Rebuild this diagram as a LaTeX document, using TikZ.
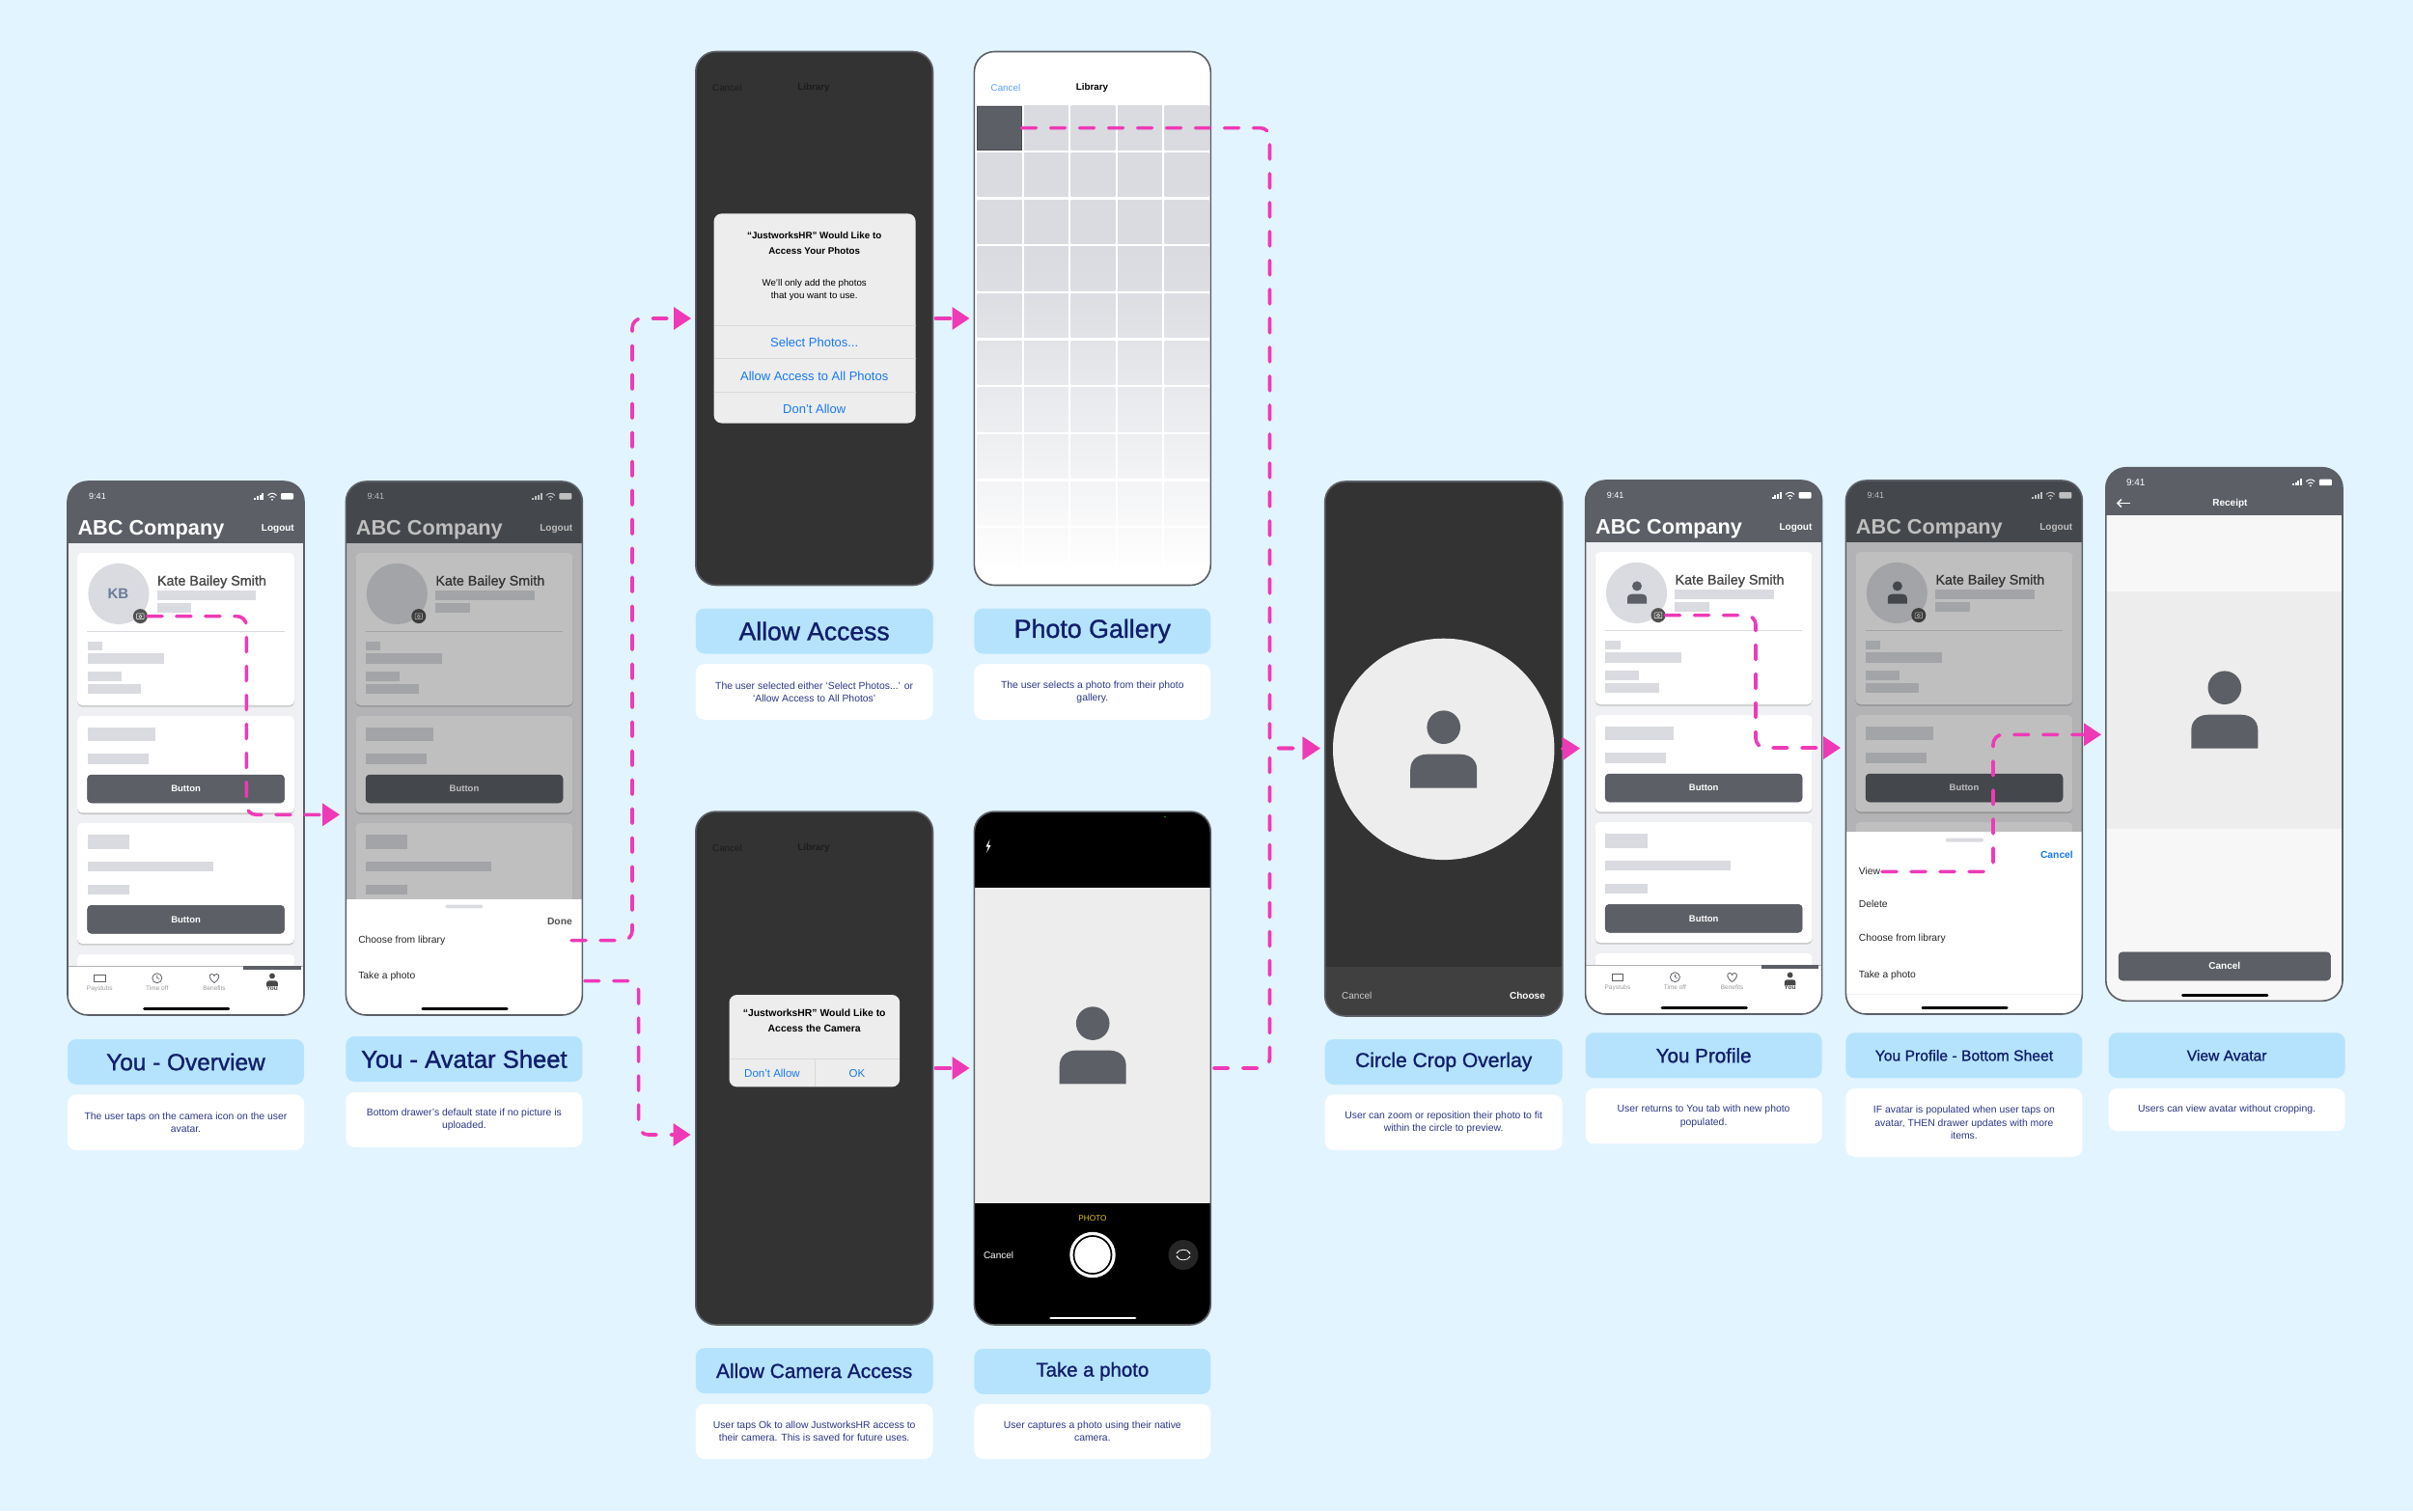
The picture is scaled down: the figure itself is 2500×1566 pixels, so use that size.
\documentclass[tikz,border=0pt]{standalone}
\usepackage{fontspec}
\usetikzlibrary{arrows.meta}
\setmainfont{Liberation Sans}
\newfontfamily\medfont[FakeBold=1.2]{Liberation Sans}
\newfontfamily\boldfont{Liberation Sans Bold}
\newcommand{\sz}[2][13.3]{\fontsize{#2}{#1}\selectfont}
\definecolor{pagebg}{HTML}{E2F4FF}
\definecolor{titlebg}{HTML}{B5E3FD}
\definecolor{titleink}{HTML}{111E6C}
\definecolor{descink}{HTML}{2C3785}
\definecolor{headbar}{HTML}{5C5F66}
\definecolor{listbg}{HTML}{EFF0F4}
\definecolor{skel}{HTML}{D9DBE0}
\definecolor{darkbg}{HTML}{333333}
\definecolor{dimtext}{HTML}{1C1C1C}
\definecolor{slate}{HTML}{6A7A99}
\definecolor{photobg}{HTML}{EDEDED}
\definecolor{linkblue}{HTML}{1878F0}
\definecolor{flowpink}{HTML}{EE3AB7}
\tikzset{
  flow/.style={draw=flowpink,line width=3.6pt,rounded corners=10pt,line cap=round,
    dash pattern=on 15pt off 15pt,-{Triangle[length=18pt,width=23pt]}},
  phone/.style={rectangle,draw=headbar,line width=1.6pt,rounded corners=21pt,
    minimum width=245pt,minimum height=553pt,inner sep=0pt,outer sep=0pt},
  titlebox/.style={rectangle,fill=titlebg,rounded corners=9pt,text=titleink,
    minimum width=245pt,minimum height=47pt,inner sep=0pt},
  descbox/.style={rectangle,fill=white,rounded corners=9pt,text=descink,align=center,
    minimum width=245pt,inner sep=0pt,font={\sz{10.4}}},
  btn/.style={rectangle,fill=headbar,draw=headbar!85!black,line width=.5pt,rounded corners=4pt,
    text=white,inner sep=0pt,font={\boldfont\sz{9.5}}},
  homebar/.style={line width=2.8pt,line cap=round},
  navtext/.style={text=black!40,inner sep=0pt,font={\sz{6.5}}},
  sheetitem/.style={anchor=west,inner sep=0pt,text=black!85,font={\sz{10.3}}},
  alertbtn/.style={text=linkblue,inner sep=0pt,font={\sz{13}}}
}
\newcommand{\personicon}[3]{%
  \begin{scope}[shift={#1},scale=#2]
  \fill[#3] (0,0) circle (17.3);
  \fill[#3] (-34.5,62.8) -- (-34.5,44) .. controls (-34.5,33) and (-26,28) .. (-17,28)
    -- (17,28) .. controls (26,28) and (34.5,33) .. (34.5,44) -- (34.5,62.8) -- cycle;
  \end{scope}}
\newcommand{\statusbar}[2]{%
  \node[text=white,inner sep=0pt,font={\sz{#2}}] (#1-clock) at (31,15) {9:41};
  \foreach \i/\h in {0/2,1/3.5,2/5,3/7}
    \fill[white] (193+\i*2.8,18.5) rectangle ++(2,-\h);
  \draw[white,line width=1pt] (207.5,14.5) .. controls (210,11.5) and (214,11.5) .. (216.5,14.5);
  \draw[white,line width=1pt] (209.5,16.5) .. controls (211,15) and (213,15) .. (214.5,16.5);
  \fill[white] (212,18.8) circle (1);
  \fill[white,rounded corners=1pt] (221,12) rectangle (234,18.5);}
\newcommand{\youbase}[2]{%
  \fill[listbg] (0,63) rectangle (245,503);
  \fill[headbar] (0,0) rectangle (245,63.6);
  \statusbar{#1}{9}
  \node[anchor=west,text=white,inner sep=0pt,font={\boldfont\sz{21.7}}] (#1-brand) at (10.3,50.5) {ABC Company};
  \node[anchor=east,text=white,inner sep=0pt,font={\boldfont\sz{10}}] (#1-logout) at (235,49.5) {Logout};
  \foreach \ya/\yb in {74/232,243/343.4,354/479,490/530} {
    \fill[black!22,rounded corners=5pt] (10,\ya+1.6) rectangle (235,\yb+1.6);
    \fill[white,rounded corners=5pt] (10,\ya) rectangle (235,\yb);
  }
  \fill[skel] (52.9,116.4) circle (31.5);
  #2
  \node[anchor=west,text=black!72,inner sep=0pt,font={\medfont\sz{14.3}}] (#1-name) at (92.8,104) {Kate Bailey Smith};
  \foreach \xa/\ya/\xb/\yb in {92.8/113/195.3/123,92.8/126/128.4/136,20.7/165.5/36/175.4,
    20.7/178/99.5/188.6,20.7/197/55.8/207,20.7/210/76/220,20.7/254.7/91/268.9,20.7/282/83.6/292.5,
    20.7/366/64/381,20.7/394/150.5/404,20.7/417.5/64/427.5}
    \fill[skel] (\xa,\ya) rectangle (\xb,\yb);
  \draw[skel,line width=.6pt] (20.3,155.6) -- (224.5,155.6);
  \node[circle,fill=black!68,minimum size=15pt,inner sep=0pt,outer sep=0pt] (#1-cam) at (75.4,139.6) {};
  \draw[white,line width=.5pt,rounded corners=.6pt] (71.6,136.8) rectangle (79.2,142.6);
  \draw[white,line width=.5pt] (75.4,139.8) circle (1.6);
  \node[btn,minimum width=204pt,minimum height=29pt] (#1-btna) at (122.6,318.5) {Button};
  \node[btn,minimum width=204pt,minimum height=29pt] (#1-btnb) at (122.6,453.8) {Button};
  \fill[white] (0,503) rectangle (245,553);
  \draw[black!30,line width=.8pt] (0,502.7) -- (245,502.7);
  \fill[headbar] (182,502) rectangle (241.6,505.5);
  \foreach \x/\lab/\i in {33.3/Paystubs/p,92.8/Time off/t,152/Benefits/b}
    \node[navtext] (#1-nav\i) at (\x,525.6) {\lab};
  \node[navtext,text=black!70,font={\boldfont\sz{6.5}}] (#1-navy) at (212,525.6) {You};
  \draw[headbar,line width=.8pt] (27.5,511) rectangle (39,518.5);
  \draw[headbar,line width=.8pt] (92.8,514.7) circle (5);
  \draw[headbar,line width=.7pt] (92.8,511.8) -- (92.8,514.7) -- (95.2,515.5);
  \draw[headbar,line width=.8pt] (152,519.5) .. controls (146,515.5) and (146,510.5) .. (149.5,510.5)
    .. controls (151,510.5) and (152,511.5) .. (152,512.5) .. controls (152,511.5) and (153,510.5) .. (154.5,510.5)
    .. controls (158,510.5) and (158,515.5) .. (152,519.5) -- cycle;
  \personicon{(212,512.5)}{.17}{black!72}
  \draw[black,homebar] (79.5,546.4) -- (166.8,546.4);}
\begin{document}
\begin{tikzpicture}[x=1pt,y=-1pt]
\useasboundingbox (0,0) rectangle (2500,1566);
\fill[pagebg] (0,0) rectangle (2500,1566);

\begin{scope}[shift={(70,499)}]
\clip[rounded corners=21pt] (0,0) rectangle (245,553);
\youbase{A}{\node[text=slate,inner sep=0pt,font={\boldfont\sz{15}}] (A-initials) at (52.5,116.4) {KB};}
\end{scope}
\node[phone] (A) at (192.5,775.5) {};

\begin{scope}[shift={(358.4,499)}]
\clip[rounded corners=21pt] (0,0) rectangle (245,553);
\youbase{B}{}
\fill[black,opacity=.25] (0,0) rectangle (245,553);
\fill[white] (0,433) rectangle (245,553);
\fill[skel,rounded corners=1.5pt] (103,438.7) rectangle (142,442.3);
\node[anchor=east,inner sep=0pt,text=black!68,font={\boldfont\sz{10.3}}] (B-done) at (234.6,456) {Done};
\node[sheetitem] (B-choose) at (12.7,476) {Choose from library};
\node[sheetitem] (B-take) at (12.7,513) {Take a photo};
\draw[black,homebar] (79.5,546.4) -- (166.8,546.4);
\end{scope}
\node[phone] (B) at (480.9,775.5) {};

\begin{scope}
\clip[rounded corners=21pt] (720.8,53.3) rectangle (966.5,606.6);
\fill[darkbg] (720.8,53.3) rectangle (966.5,606.6);
\node[anchor=west,inner sep=0pt,text=dimtext,font={\sz{9.8}}] (C-cancel) at (738,91.4) {Cancel};
\node[inner sep=0pt,text=dimtext,font={\boldfont\sz{9.8}}] (C-library) at (843,91.4) {Library};
\fill[photobg,rounded corners=8pt] (739.6,221.4) rectangle (948.6,438.5);
\node[inner sep=0pt,align=center,font={\boldfont\sz[15.7]{9.8}}] (C-ask) at (843.7,252) {“JustworksHR” Would Like to\\Access Your Photos};
\node[inner sep=0pt,align=center,font={\sz[13]{9.7}}] (C-body) at (843.7,300) {We'll only add the photos\\that you want to use.};
\foreach \y in {337.5,371.5,406} \draw[black!15,line width=.6pt] (739.6,\y) -- (948.6,\y);
\node[alertbtn] (C-select) at (843.7,355) {Select Photos...};
\node[alertbtn] (C-all) at (843.7,389.4) {Allow Access to All Photos};
\node[alertbtn] (C-deny) at (843.7,423.4) {Don't Allow};
\end{scope}
\node[phone,minimum width=245.7pt] (C) at (843.65,330) {};

\begin{scope}
\clip[rounded corners=21pt] (1009.4,53.3) rectangle (1254.3,606.6);
\fill[white] (1009.4,53.3) rectangle (1254.3,606.6);
\node[anchor=west,inner sep=0pt,text=linkblue!70!white,font={\sz{9.8}}] (D-cancel) at (1026.5,91.4) {Cancel};
\node[inner sep=0pt,font={\boldfont\sz{9.8}}] (D-library) at (1131.4,91.4) {Library};
\foreach \r in {0,...,9} {
  \pgfmathsetmacro\pa{min(100,(10-\r)*100/6.5)}
  \pgfmathsetmacro\pb{min(100,(9-\r)*100/6.5)}
  \foreach \c in {0,...,4}
    \shade[top color=skel!\pa!white,bottom color=skel!\pb!white] (1012.7+\c*48.47,109.8+\r*48.67) rectangle ++(45.8,45.5);
}
\node[rectangle,fill=headbar,draw=headbar!80!black,line width=.5pt,minimum width=45.8pt,minimum height=45.5pt,inner sep=0pt,outer sep=0pt] (D-cell) at (1035.6,132.55) {};
\end{scope}
\node[phone,minimum width=244.9pt] (D) at (1131.85,330) {};

\begin{scope}
\clip[rounded corners=21pt] (720.8,841) rectangle (966.5,1372.9);
\fill[darkbg] (720.8,841) rectangle (966.5,1372.9);
\node[anchor=west,inner sep=0pt,text=dimtext,font={\sz{9.8}}] (I-cancel) at (738,878.7) {Cancel};
\node[inner sep=0pt,text=dimtext,font={\boldfont\sz{9.8}}] (I-library) at (843,878.7) {Library};
\fill[photobg,rounded corners=8pt] (755.5,1031) rectangle (932.2,1126.4);
\node[inner sep=0pt,align=center,font={\boldfont\sz[16]{10.4}}] (I-ask) at (843.7,1057.6) {“JustworksHR” Would Like to\\Access the Camera};
\draw[black!15,line width=.6pt] (755.5,1097.4) -- (932.2,1097.4);
\draw[black!15,line width=.6pt] (844,1097.4) -- (844,1126.4);
\node[alertbtn,font={\sz{11.5}}] (I-deny) at (800,1112.6) {Don't Allow};
\node[alertbtn,font={\sz{11.5}}] (I-ok) at (888,1112.6) {OK};
\end{scope}
\node[phone,minimum width=245.7pt,minimum height=531.9pt] (I) at (843.65,1107) {};

\begin{scope}
\clip[rounded corners=21pt] (1009.4,841) rectangle (1254.3,1372.9);
\fill[black] (1009.4,841) rectangle (1254.3,1372.9);
\fill[photobg] (1009.4,920) rectangle (1254.3,1247);
\personicon{(1132.2,1060.6)}{1}{headbar}
\fill[white] (1025.5,870) -- (1021.5,877.5) -- (1024,877.5) -- (1022,884) -- (1026.5,876) -- (1024,876) -- cycle;
\fill[green!70!black] (1207,846.5) circle (.8);
\node[inner sep=0pt,text=yellow!75!orange!90!black,font={\sz{8.3}}] (J-mode) at (1132,1262.6) {PHOTO};
\node[anchor=west,inner sep=0pt,text=white,font={\sz{10}}] (J-cancel) at (1018.8,1300.5) {Cancel};
\fill[white] (1132,1300.5) circle (23.7);
\fill[black] (1132,1300.5) circle (20.4);
\fill[white] (1132,1300.5) circle (18.6);
\fill[black!85] (1226,1300.5) circle (15.5);
\draw[white,line width=.8pt,-{Stealth[length=2.5pt]}] (1219,1299) .. controls (1221,1294) and (1231,1294) .. (1233,1300);
\draw[white,line width=.8pt,-{Stealth[length=2.5pt]}] (1233,1302) .. controls (1231,1307) and (1221,1307) .. (1219,1301);
\draw[white,homebar] (1088.6,1366) -- (1176,1366);
\end{scope}
\node[phone,minimum width=244.9pt,minimum height=531.9pt] (J) at (1131.85,1107) {};

\begin{scope}
\clip[rounded corners=21pt] (1372.7,499) rectangle (1618.7,1053);
\fill[darkbg] (1372.7,499) rectangle (1618.7,1053);
\fill[black!75!white] (1372.7,1001.5) rectangle (1618.7,1053);
\fill[photobg] (1495.7,776.4) circle (114.7);
\personicon{(1495.7,753.7)}{1}{headbar}
\node[anchor=west,inner sep=0pt,text=black!20,font={\sz{10}}] (E-cancel) at (1390,1031.7) {Cancel};
\node[anchor=east,inner sep=0pt,text=white,font={\boldfont\sz{10}}] (E-choose) at (1601,1031.7) {Choose};
\end{scope}
\node[phone,minimum width=246pt,minimum height=554pt] (E) at (1495.7,776) {};

\begin{scope}[shift={(1642.6,498)}]
\clip[rounded corners=21pt] (0,0) rectangle (245,553);
\youbase{F}{\personicon{(53.4,109.4)}{.29}{headbar}}
\end{scope}
\node[phone] (F) at (1765.1,774.5) {};

\begin{scope}[shift={(1912.4,498)}]
\clip[rounded corners=21pt] (0,0) rectangle (245,553);
\youbase{G}{\personicon{(53.4,109.4)}{.29}{headbar}}
\fill[black,opacity=.25] (0,0) rectangle (245,553);
\fill[white] (0,364.3) rectangle (245,553);
\fill[skel,rounded corners=1.5pt] (103.6,370.7) rectangle (142.6,374.7);
\node[anchor=east,inner sep=0pt,text=linkblue,font={\boldfont\sz{10.3}}] (G-cancel) at (235.6,388) {Cancel};
\node[sheetitem] (G-view) at (13.3,405.3) {View};
\node[sheetitem] (G-delete) at (13.3,439.3) {Delete};
\node[sheetitem] (G-choose) at (13.3,475) {Choose from library};
\node[sheetitem] (G-take) at (13.3,512.4) {Take a photo};
\draw[black!5,line width=.8pt] (0,532.7) -- (245,532.7);
\draw[black,homebar] (79.5,546.4) -- (166.8,546.4);
\end{scope}
\node[phone] (G) at (2034.9,774.5) {};

\begin{scope}
\clip[rounded corners=21pt] (2181.8,484.7) rectangle (2427,1037.3);
\fill[headbar!5!white] (2181.8,534) rectangle (2427,1037.3);
\fill[photobg] (2181.8,613) rectangle (2427,859);
\end{scope}
\begin{scope}[shift={(2181.8,484.7)}]
\clip[rounded corners=21pt] (0,0) rectangle (245.2,552.6);
\fill[headbar] (0,0) rectangle (245.2,49.6);
\statusbar{H}{10}
\draw[white,line width=1.5pt,-{Straight Barb[length=4pt,width=8pt]}] (25,36.8) -- (11,36.8);
\node[inner sep=0pt,text=white,font={\boldfont\sz{10}}] (H-receipt) at (128.6,36.8) {Receipt};
\end{scope}
\personicon{(2304.8,712.7)}{1}{headbar}
\node[btn,minimum width=219.5pt,minimum height=29.2pt,font={\boldfont\sz{10}}] (H-cancel) at (2304.75,1001.4) {Cancel};
\draw[black,homebar] (2261.4,1031.2) -- (2349,1031.2);
\node[phone,minimum width=245.2pt,minimum height=552.6pt] (H) at (2304.4,761) {};

\node[titlebox,font={\medfont\sz{24.4}}] (A-title) at (192.5,1100.5) {You - Overview};
\node[descbox,minimum height=57.5pt] (A-desc) at (192.5,1163.2) {The user taps on the camera icon on the user\\avatar.};
\node[titlebox,font={\medfont\sz{25.6}}] (B-title) at (480.9,1097.5) {You - Avatar Sheet};
\node[descbox,minimum height=57pt] (B-desc) at (480.9,1160.5) {Bottom drawer's default state if no picture is\\uploaded.};
\node[titlebox,minimum width=245.7pt,font={\medfont\sz{26.5}}] (C-title) at (843.65,654) {Allow Access};
\node[descbox,minimum width=245.7pt,minimum height=57.7pt] (C-desc) at (843.65,717) {The user selected either ‘Select Photos...’ or\\‘Allow Access to All Photos’};
\node[titlebox,font={\medfont\sz{26.8}}] (D-title) at (1131.85,654) {Photo Gallery};
\node[descbox,minimum height=57.7pt] (D-desc) at (1131.85,717) {The user selects a photo from their photo\\gallery.};
\node[titlebox,minimum width=245.7pt,font={\medfont\sz{20.9}}] (I-title) at (843.65,1420.6) {Allow Camera Access};
\node[descbox,minimum width=245.7pt,minimum height=57pt] (I-desc) at (843.65,1483.5) {User taps Ok to allow JustworksHR access to\\their camera. This is saved for future uses.};
\node[titlebox,font={\medfont\sz{20.4}}] (J-title) at (1131.85,1421.3) {Take a photo};
\node[descbox,minimum height=57pt] (J-desc) at (1131.85,1483.5) {User captures a photo using their native\\camera.};
\node[titlebox,minimum width=246pt,font={\medfont\sz{21}}] (E-title) at (1495.7,1100.5) {Circle Crop Overlay};
\node[descbox,minimum width=246pt,minimum height=57.5pt] (E-desc) at (1495.7,1163.2) {User can zoom or reposition their photo to fit\\within the circle to preview.};
\node[titlebox,font={\medfont\sz{20.6}}] (F-title) at (1765.1,1093.8) {You Profile};
\node[descbox,minimum height=57.5pt] (F-desc) at (1765.1,1156.7) {User returns to You tab with new photo\\populated.};
\node[titlebox,font={\medfont\sz{15.7}}] (G-title) at (2034.9,1093.8) {You Profile - Bottom Sheet};
\node[descbox,minimum height=70.7pt] (G-desc) at (2034.9,1163.4) {IF avatar is populated when user taps on\\avatar, THEN drawer updates with more\\items.};
\node[titlebox,font={\medfont\sz{15.6}}] (H-title) at (2307.1,1093.8) {View Avatar};
\node[descbox,minimum height=44.3pt] (H-desc) at (2307.1,1150.2) {Users can view avatar without cropping.};

\coordinate (ab) at (255.3,844.3);
\coordinate (Bin) at (352,844.3);
\coordinate (bcs) at (592,974.6);
\coordinate (bcv) at (655,330);
\coordinate (Cin) at (716,330);
\coordinate (bis) at (605.7,1016.6);
\coordinate (biv) at (661.6,1176);
\coordinate (Iin) at (715.5,1176);
\coordinate (cdo) at (969.4,330);
\coordinate (Din) at (1004.5,330);
\coordinate (ijo) at (969.4,1107);
\coordinate (Jin) at (1004.5,1107);
\coordinate (dev) at (1315.5,775.5);
\coordinate (Ein) at (1367.7,775.5);
\coordinate (jeo) at (1257.6,1107);
\coordinate (Fin) at (1637,775.5);
\coordinate (fgv) at (1819,775);
\coordinate (Gin) at (1907,775);
\coordinate (gvo) at (1950,903.3);
\coordinate (ghv) at (2065,761.3);
\coordinate (Hin) at (2177,761.3);
\draw[flow] (A-cam.east) -| (ab) -- (Bin);
\draw[flow] (bcs) -| (bcv) -- (Cin);
\draw[flow] (bis) -| (biv) -- (Iin);
\draw[flow] (cdo) -- (Din);
\draw[flow] (ijo) -- (Jin);
\draw[flow] (D-cell.east) -| (dev) -- (Ein);
\draw[flow] (jeo) -| (dev) -- (Ein);
\draw[flow] (E.east) -- (Fin);
\draw[flow] (F-cam.east) -| (fgv) -- (Gin);
\draw[flow] (gvo) -| (ghv) -- (Hin);
\end{tikzpicture}
\end{document}
